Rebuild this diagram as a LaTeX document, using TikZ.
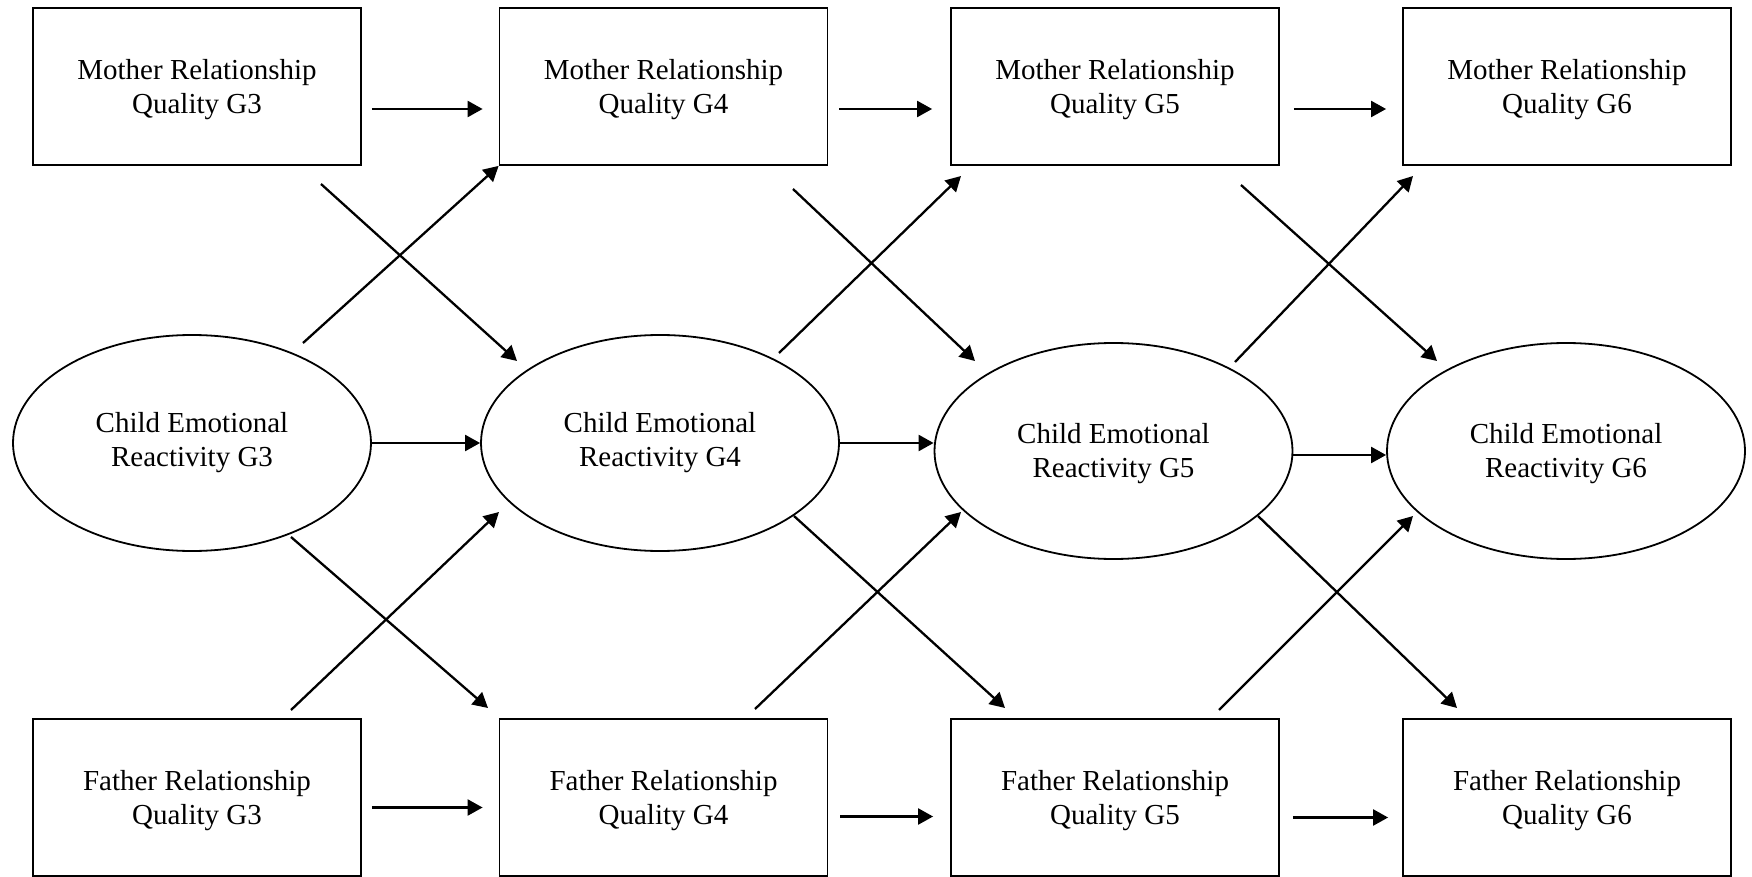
\documentclass[tikz,border=0pt]{standalone}
\usepackage{fontspec}
\setmainfont{Liberation Serif}
\usetikzlibrary{arrows.meta,shapes.geometric}
\newcommand{\mystrut}{\rule{0pt}{12.8pt}}
\tikzset{
  boxnode/.style={draw, line width=0.9pt, rectangle, minimum width=164pt, minimum height=78.5pt,
    inner sep=0pt, align=center, font=\fontsize{14.5}{17}\selectfont},
  ellnode/.style={draw, line width=0.9pt, ellipse, minimum width=179pt, minimum height=108pt,
    inner sep=0pt, align=center, font=\fontsize{14.5}{17}\selectfont},
  arr/.style={line width=1.15pt, -{Triangle[length=7.5pt,width=8pt]}},
}
\begin{document}
\begin{tikzpicture}[x=0.5pt,y=-0.5pt]
\useasboundingbox (0,0) rectangle (1752,877);
% top row
\node[boxnode] (m3) at (197,86.5) {\mystrut Mother Relationship\\Quality G3};
\node[boxnode] (m4) at (663.5,86.5) {\mystrut Mother Relationship\\Quality G4};
\node[boxnode] (m5) at (1115,86.5) {\mystrut Mother Relationship\\Quality G5};
\node[boxnode] (m6) at (1567,86.5) {\mystrut Mother Relationship\\Quality G6};
% middle row
\node[ellnode] (e3) at (192,443) {Child Emotional\\Reactivity G3};
\node[ellnode] (e4) at (660,443) {Child Emotional\\Reactivity G4};
\node[ellnode] (e5) at (1113.5,451) {\mystrut Child Emotional\\Reactivity G5};
\node[ellnode] (e6) at (1566,451) {\mystrut Child Emotional\\Reactivity G6};
% bottom row
\node[boxnode] (f3) at (197,797.5) {\mystrut Father Relationship\\Quality G3};
\node[boxnode] (f4) at (663.5,797.5) {\mystrut Father Relationship\\Quality G4};
\node[boxnode] (f5) at (1115,797.5) {\mystrut Father Relationship\\Quality G5};
\node[boxnode] (f6) at (1567,797.5) {\mystrut Father Relationship\\Quality G6};

% horizontal arrows, top row
\draw[arr] ([shift={(10,22.5)}]m3.east) -- ([shift={(-16,22.5)}]m4.west);
\draw[arr] ([shift={(11,22.5)}]m4.east) -- ([shift={(-18,22.5)}]m5.west);
\draw[arr] ([shift={(14,22.5)}]m5.east) -- ([shift={(-16,22.5)}]m6.west);
% horizontal arrows, middle row
\draw[arr] (e3.east) -- (e4.west);
\draw[arr] (e4.east) -- (e4.east -| e5.west);
\draw[arr] ([shift={(0,4)}]e5.east) -- ([shift={(0,4)}]e6.west);
% horizontal arrows, bottom row
\draw[arr] ([shift={(10,10)}]f3.east) -- ([shift={(-16,10)}]f4.west);
\draw[arr] ([shift={(12,19)}]f4.east) -- ([shift={(-17,19)}]f5.west);
\draw[arr] ([shift={(13,20)}]f5.east) -- ([shift={(-14,20)}]f6.west);

% cross-lagged arrows, G3 -> G4
\draw[arr] ([shift={(124,97.5)}]m3.center) -- ([shift={(-143,-82)}]e4.center);
\draw[arr] ([shift={(111,-100)}]e3.center) -- (m4.south west);
\draw[arr] ([shift={(99,94)}]e3.center) -- ([shift={(-175.5,-89.5)}]f4.center);
\draw[arr] ([shift={(94,-87.5)}]f3.center) -- ([shift={(-161,69)}]e4.center);
% G4 -> G5
\draw[arr] ([shift={(129.5,102.5)}]m4.center) -- ([shift={(-138.5,-90)}]e5.center);
\draw[arr] ([shift={(119,-90)}]e4.center) -- ([shift={(-154,89.5)}]m5.center);
\draw[arr] ([shift={(134,73)}]e4.center) -- ([shift={(-110,-89.5)}]f5.center);
\draw[arr] ([shift={(91.5,-88.5)}]f4.center) -- ([shift={(-152.5,61)}]e5.center);
% G5 -> G6
\draw[arr] ([shift={(126,98.5)}]m5.center) -- ([shift={(-129,-90)}]e6.center);
\draw[arr] ([shift={(121.5,-89)}]e5.center) -- ([shift={(-154,89.5)}]m6.center);
\draw[arr] ([shift={(144.5,65)}]e5.center) -- ([shift={(-110,-89.5)}]f6.center);
\draw[arr] ([shift={(104,-87.5)}]f5.center) -- ([shift={(-153,65)}]e6.center);
\end{tikzpicture}
\end{document}
